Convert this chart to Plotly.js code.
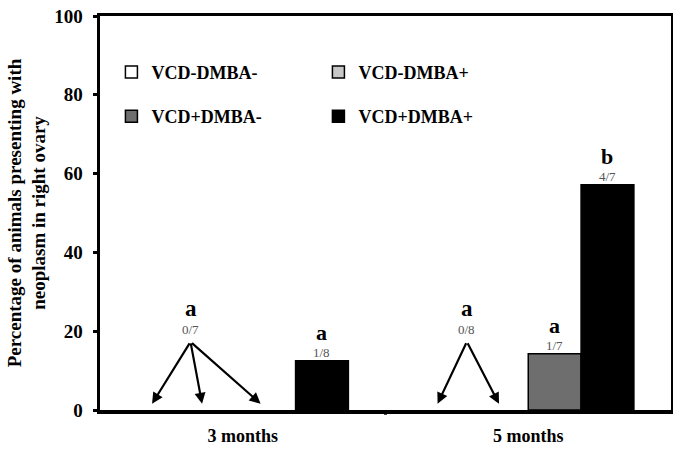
<!DOCTYPE html>
<html>
<head>
<meta charset="utf-8">
<script src="https://cdn.plot.ly/plotly-3.0.1.min.js"></script>
<style>html,body{margin:0;padding:0;background:#fff;}</style>
</head>
<body>
<div id="chart" style="width:673px;height:451px;"></div>
<script>
// Data
var categories = ["3 months", "5 months"];
var seriesNames = ["VCD-DMBA-", "VCD-DMBA+", "VCD+DMBA-", "VCD+DMBA+"];
var vcdMdmbaM = [0, 0];
var vcdMdmbaP = [0, 0];
var vcdPdmbaM = [0, 14.29];
var vcdPdmbaP = [12.5, 57.14];
var fractions = [["0/7", "0/7", "0/7", "1/8"], ["0/8", "0/8", "1/7", "4/7"]];
var letters = [["a", "a", "a", "a"], ["a", "a", "a", "b"]];
var colors = ["#ffffff", "#c8c8c8", "#6e6e6e", "#000000"];

var FONT = "Liberation Serif";
var values = [vcdMdmbaM, vcdMdmbaP, vcdPdmbaM, vcdPdmbaP];
var legends = ["legend", "legend", "legend2", "legend2"];
var traces = seriesNames.map(function (n, i) {
  return {
    type: "bar", name: n, x: [0, 1],
    // zero-height bars are not drawn (they would only leave an outline on the axis)
    y: values[i].map(function (v) { return v > 0 ? v : null; }),
    marker: {color: colors[i], line: {color: "#000", width: 1.5}},
    legend: legends[i], hoverinfo: "skip"
  };
});

var bargap = 0.26;
var slotW = (1 - bargap) / 4;
function slotX(cat, k) { return cat + (k - 1.5) * slotW; }

var ann = [];
// grouped zero labels with arrows
var groups = [
  {cat: 0, slots: [0, 1, 2], tail: [-0.183, 17.3], shifts: [-0.04, -0.05, -0.03]},
  {cat: 1, slots: [0, 1], tail: [0.785, 17.3], shifts: [-0.04, -0.01]}
];
groups.forEach(function (g) {
  var fr = fractions[g.cat][g.slots[0]];
  var le = letters[g.cat][g.slots[0]];
  g.slots.forEach(function (k, j) {
    ann.push({x: slotX(g.cat, k) + g.shifts[j], y: 1.6, xref: "x", yref: "y",
      ax: g.tail[0], ay: g.tail[1], axref: "x", ayref: "y", text: "",
      showarrow: true, arrowhead: 2, arrowsize: 1, arrowwidth: 2.2, arrowcolor: "#000", standoff: 0});
  });
  ann.push({x: g.tail[0], y: g.tail[1], xref: "x", yref: "y", text: fr, showarrow: false,
    yanchor: "bottom", yshift: 3, font: {family: FONT, size: 13, color: "#555"}});
  ann.push({x: g.tail[0], y: g.tail[1], xref: "x", yref: "y", text: "<b>" + le + "</b>", showarrow: false,
    yanchor: "bottom", yshift: 19, font: {family: FONT, size: 23, color: "#000"}});
});
// labels over non-zero bars
[0, 1].forEach(function (c) {
  for (var k = 0; k < 4; k++) {
    var v = values[k][c];
    if (v > 0) {
      ann.push({x: slotX(c, k), y: v, xref: "x", yref: "y", text: fractions[c][k], showarrow: false,
        yanchor: "bottom", yshift: -1, font: {family: FONT, size: 13, color: "#555"}});
      ann.push({x: slotX(c, k), y: v, xref: "x", yref: "y", text: "<b>" + letters[c][k] + "</b>", showarrow: false,
        yanchor: "bottom", yshift: 14, font: {family: FONT, size: 22, color: "#000"}});
    }
  }
});

var legFont = {family: FONT, size: 18, color: "#000", weight: "bold"};
var layout = {
  width: 673, height: 451,
  margin: {l: 100, r: 2, t: 16, b: 41},
  paper_bgcolor: "#fff", plot_bgcolor: "#fff",
  barmode: "group", bargap: bargap, bargroupgap: 0,
  font: {family: FONT, color: "#000"},
  showlegend: true,
  legend: {orientation: "h", x: 0.02, y: 0.857, xanchor: "left", yanchor: "middle",
    entrywidth: 162, entrywidthmode: "pixels", bgcolor: "rgba(0,0,0,0)", itemwidth: 30,
    font: legFont, itemclick: false},
  legend2: {orientation: "h", x: 0.02, y: 0.745, xanchor: "left", yanchor: "middle",
    entrywidth: 162, entrywidthmode: "pixels", bgcolor: "rgba(0,0,0,0)", itemwidth: 30,
    font: legFont, itemclick: false},
  xaxis: {
    type: "linear", range: [-0.5, 1.5], tickvals: [0, 1], ticktext: categories,
    showgrid: false, zeroline: false, showline: true, linecolor: "#000", linewidth: 3.5,
    mirror: true, ticks: "", tickfont: {family: FONT, size: 18, color: "#000", weight: "bold"},
    ticklabelstandoff: 7
  },
  yaxis: {
    range: [0, 100], tickvals: [0, 20, 40, 60, 80, 100], showgrid: false, zeroline: false,
    showline: true, linecolor: "#000", linewidth: 3.5, mirror: true,
    ticks: "outside", ticklen: 4, tickwidth: 3, tickcolor: "#000",
    tickfont: {family: FONT, size: 19, color: "#000", weight: "bold"}, ticklabelstandoff: 6,
    title: {text: "Percentage of animals presenting with<br>neoplasm in right ovary",
      font: {family: FONT, size: 19, color: "#000", weight: "bold"}, standoff: 4}
  },
  shapes: [{type: "line", xref: "x", yref: "paper", x0: 0.5, x1: 0.5, y0: 0, y1: -0.012,
    line: {color: "#000", width: 3}}],
  annotations: ann
};

Plotly.newPlot("chart", traces, layout, {displayModeBar: false, staticPlot: true});
</script>
</body>
</html>
